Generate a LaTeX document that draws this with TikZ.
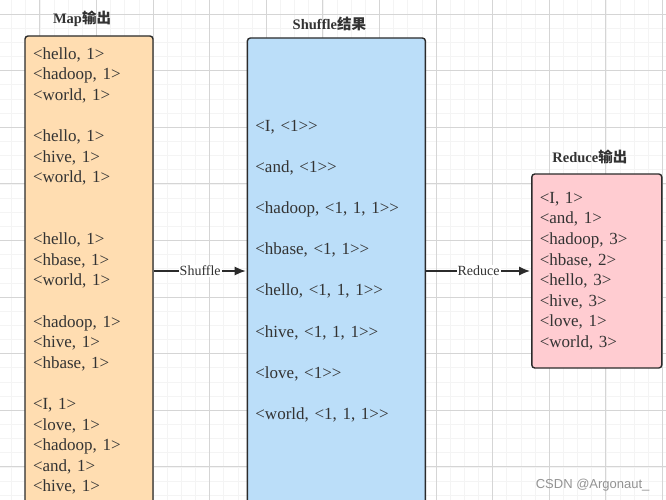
\documentclass[tikz,border=0pt]{standalone}
\usepackage{fontspec}
\setmainfont{Liberation Serif}
\setsansfont{Liberation Sans}
\newfontfamily\cjk{Noto Sans CJK SC}
\usetikzlibrary{positioning, arrows.meta}
\definecolor{Peach}{HTML}{FFDDB1}
\definecolor{SkyBlue}{HTML}{BBDEF9}
\definecolor{Pink}{HTML}{FFCCD1}
\definecolor{Ink}{HTML}{2B2B2B}
\definecolor{TextGray}{HTML}{333333}
\definecolor{GridLine}{HTML}{EDEDED}
\def\kv#1#2{<#1, #2\kern0pt>}
\def\gap{\\[20.6pt]}

\begin{document}
\begin{tikzpicture}[
    x=1pt, y=-1pt,
    >={Latex[length=11pt, width=9pt]},
    gridMinor/.style={draw=GridLine!60, line width=0.6pt},
    gridMajor/.style={draw=GridLine!90!black, line width=0.8pt},
    stageBox/.style={draw=Ink, line width=1.4pt, rounded corners=3pt, text=TextGray,
      align=left, inner xsep=8pt, font=\fontsize{17}{20.6}\selectfont},
    titleText/.style={text=TextGray, inner sep=0pt, font=\fontsize{14.5}{17}\selectfont\bfseries},
    flow/.style={->, draw=Ink, line width=1.4pt, shorten >=1pt},
    flowLabel/.style={fill=white, text=TextGray, inner sep=1pt, font=\fontsize{14}{16}\selectfont},
  ]
  \useasboundingbox (0,0) rectangle (666,500);
  \clip (0,0) rectangle (666,500);
  \fill[white] (0,0) rectangle (666,500);
  % grid
  \foreach \i in {0,...,47} \draw[gridMinor] (11.5+\i*14.15,0) -- ++(0,500);
  \foreach \i in {0,...,35} \draw[gridMinor] (0,14+\i*14.15) -- ++(666,0);
  \foreach \i in {0,...,11} \draw[gridMajor] (39.8+\i*56.6,0) -- ++(0,500);
  \foreach \i in {0,...,8} \draw[gridMajor] (0,14+\i*56.6) -- ++(666,0);
  % stages
  \node[stageBox, fill=Peach, text width=112pt, minimum height=470pt] (mapOut) at (89,271) {%
    \kv{hello}{1}\\ \kv{hadoop}{1}\\ \kv{world}{1}\gap
    \kv{hello}{1}\\ \kv{hive}{1}\\ \kv{world}{1}\\[41.2pt]
    \kv{hello}{1}\\ \kv{hbase}{1}\\ \kv{world}{1}\gap
    \kv{hadoop}{1}\\ \kv{hive}{1}\\ \kv{hbase}{1}\gap
    \kv{I}{1}\\ \kv{love}{1}\\ \kv{hadoop}{1}\\ \kv{and}{1}\\ \kv{hive}{1}};
  \node[stageBox, fill=SkyBlue, text width=162pt, minimum height=466pt, right=93pt of mapOut] (shuffleOut) {%
    \kv{I}{<1>}\gap \kv{and}{<1>}\gap \kv{hadoop}{<1, 1, 1>}\gap \kv{hbase}{<1, 1>}\gap
    \kv{hello}{<1, 1, 1>}\gap \kv{hive}{<1, 1, 1>}\gap \kv{love}{<1>}\gap \kv{world}{<1, 1, 1>}};
  \node[stageBox, fill=Pink, text width=114pt, minimum height=194pt, right=105pt of shuffleOut] (reduceOut) {%
    \kv{I}{1}\\ \kv{and}{1}\\ \kv{hadoop}{3}\\ \kv{hbase}{2}\\
    \kv{hello}{3}\\ \kv{hive}{3}\\ \kv{love}{1}\\ \kv{world}{3}};
  % titles
  \node[titleText] (mapTitle) at ([xshift=-7pt, yshift=17pt]mapOut.north) {Map{\cjk 输出}};
  \node[titleText] (shuffleTitle) at ([xshift=-7pt, yshift=13pt]shuffleOut.north) {Shuffle{\cjk 结果}};
  \node[titleText] (reduceTitle) at ([xshift=-7pt, yshift=16pt]reduceOut.north) {Reduce{\cjk 输出}};
  % arrows
  \draw[flow] (mapOut) -- node[flowLabel] (shuffleLbl) {Shuffle} (shuffleOut);
  \draw[flow] (shuffleOut) -- node[flowLabel] (reduceLbl) {Reduce} (reduceOut);
  % watermark
  \node[anchor=east, text=gray!85, font=\sffamily\fontsize{13}{15}\selectfont] (mark) at (653,485) {CSDN @Argonaut\_};
\end{tikzpicture}
\end{document}
